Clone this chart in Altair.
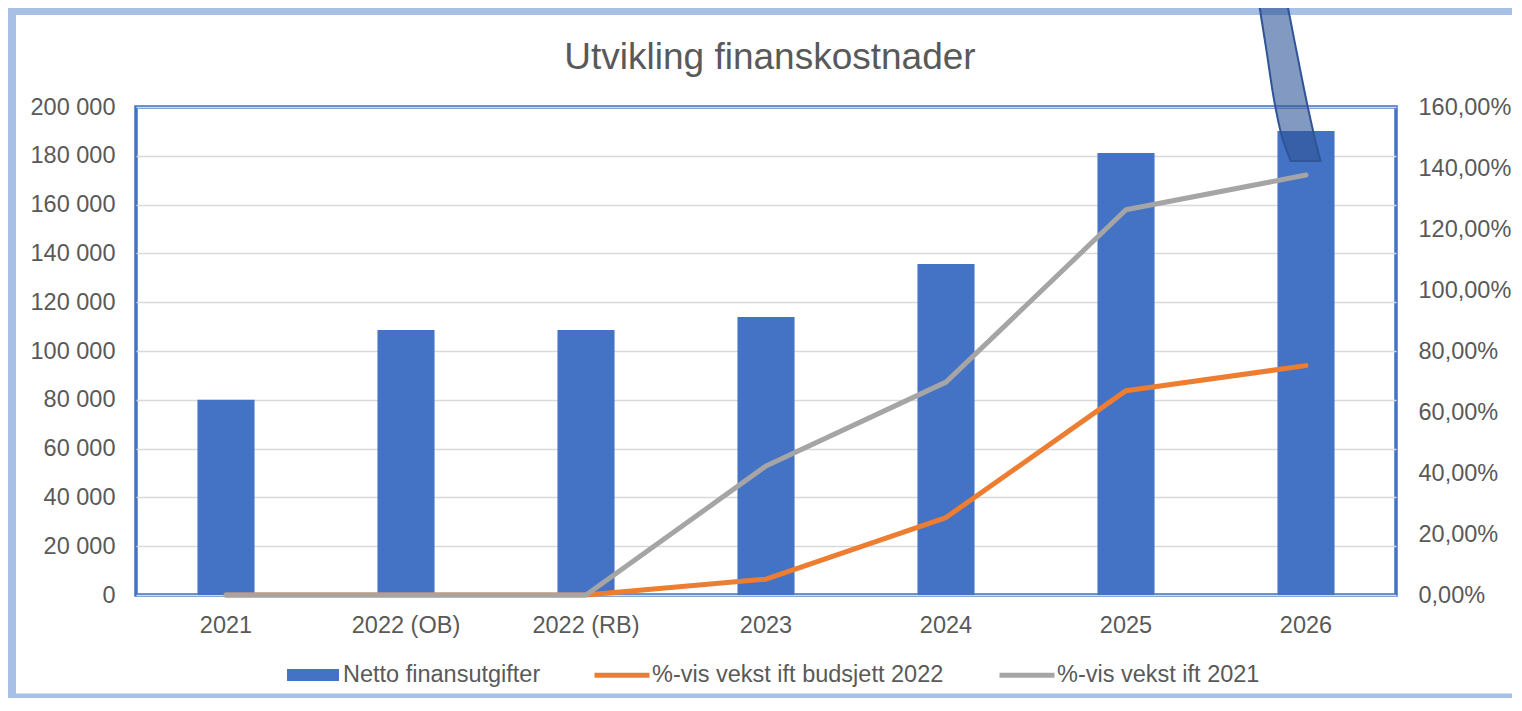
import altair as alt
import pandas as pd

# ---- data ----
categories = ["2021", "2022 (OB)", "2022 (RB)", "2023", "2024", "2025", "2026"]
netto_finansutgifter = [80000, 108600, 108600, 113900, 135700, 181100, 190200]
vekst_budsjett_2022 = [0.0, 0.0, 0.0, 5.2, 25.4, 67.0, 75.2]       # percent
vekst_2021 = [0.0, 0.0, 0.0, 42.3, 69.8, 126.3, 137.7]              # percent

bar_series = "Netto finansutgifter"
line_series = ["%-vis vekst ift budsjett 2022", "%-vis vekst ift 2021"]
title_text = "Utvikling finanskostnader"

left_ticks = list(range(0, 200001, 20000))
right_ticks = list(range(0, 161, 20))

# decorative arrow annotation (category-index units / left-axis units)
arrow_y = [249980, 243830, 223340, 199980, 186460, 177850]
arrow_left = [6.223, 6.236, 6.280, 6.330, 6.372, 6.415]
arrow_right = [6.373, 6.391, 6.446, 6.510, 6.551, 6.580]

FONT = "Liberation Sans"
TXT = "#595959"
W, H = 1260, 488

bar_df = pd.DataFrame({"kategori": categories, "netto": netto_finansutgifter,
                       "serie": [bar_series] * len(categories)})
line_df = pd.DataFrame({
    "kategori": categories * 2,
    "pct": vekst_budsjett_2022 + vekst_2021,
    "serie": [line_series[0]] * len(categories) + [line_series[1]] * len(categories),
    "rekkefolge": [0] * len(categories) + [1] * len(categories),
})
arrow_df = pd.DataFrame({"ay": arrow_y, "al": arrow_left, "ar": arrow_right})

x_scale = alt.Scale(paddingInner=0.683, paddingOuter=0.3415)

bars = alt.Chart(bar_df).mark_bar().encode(
    x=alt.X("kategori:N", sort=categories, scale=x_scale,
            axis=alt.Axis(title=None, labelAngle=0, ticks=False, domain=False,
                          labelPadding=18, labelFontSize=23.5, labelColor=TXT,
                          labelFont=FONT)),
    y=alt.Y("netto:Q", scale=alt.Scale(domain=[0, 200000], nice=False),
            axis=alt.Axis(title=None, values=left_ticks, ticks=False, domain=False,
                          grid=True, gridColor="#D9D9D9", gridWidth=1.5,
                          labelPadding=21, labelFontSize=23.5, labelColor=TXT,
                          labelFont=FONT,
                          labelExpr="replace(format(datum.value, ','), ',', ' ')")),
    color=alt.Color("serie:N",
                    scale=alt.Scale(domain=[bar_series], range=["#4472C4"]),
                    legend=alt.Legend(title=None, orient="none", legendX=151, legendY=542,
                                      symbolType="M-1,-0.23H1V0.23H-1Z", symbolSize=2704,
                                      symbolStrokeWidth=0, labelOffset=4, padding=0,
                                      labelFontSize=23.5, labelColor=TXT, labelFont=FONT,
                                      labelLimit=400)),
)

lines = alt.Chart(line_df).mark_line(strokeWidth=5, strokeCap="round", strokeJoin="round").encode(
    x=alt.X("kategori:N", sort=categories, scale=x_scale, axis=None),
    y=alt.Y("pct:Q", scale=alt.Scale(domain=[0, 160], nice=False),
            axis=alt.Axis(title=None, orient="right", values=right_ticks, ticks=False,
                          domain=False, grid=False, labelPadding=22, labelFontSize=23.5,
                          labelColor=TXT, labelFont=FONT,
                          labelExpr="replace(format(datum.value, '.2f'), '.', ',') + '%'")),
    color=alt.Color("serie:N",
                    scale=alt.Scale(domain=line_series, range=["#ED7D31", "#A5A5A5"]),
                    legend=alt.Legend(title=None, orient="none", legendX=456, legendY=538,
                                      direction="horizontal", symbolType="stroke",
                                      symbolSize=3025, symbolStrokeWidth=5,
                                      labelOffset=0, columnPadding=45, padding=0,
                                      labelFontSize=23.5, labelColor=TXT, labelFont=FONT,
                                      labelLimit=400)),
    order=alt.Order("rekkefolge:Q"),
)

arrow = alt.Chart(arrow_df).mark_area(
    orient="horizontal", color="#2F5597", fillOpacity=0.6,
    stroke="#2F5597", strokeWidth=2, interpolate="monotone", clip=False
).encode(
    y=alt.Y("ay:Q", scale=alt.Scale(domain=[0, 200000], nice=False), axis=None),
    x=alt.X("al:Q", scale=alt.Scale(domain=[0, 7], nice=False, zero=False), axis=None),
    x2="ar:Q",
)

one = pd.DataFrame({"a": [0]})
FRAME = "#A8BFE6"
frame_left = alt.Chart(one).mark_rule(color=FRAME, strokeWidth=8).encode(
    x=alt.value(-124), y=alt.value(-110), y2=alt.value(600))
frame_top = alt.Chart(one).mark_rule(color=FRAME, strokeWidth=8).encode(
    x=alt.value(-130), x2=alt.value(1400), y=alt.value(-96))
frame_bottom = alt.Chart(one).mark_rule(color=FRAME, strokeWidth=5).encode(
    x=alt.value(-130), x2=alt.value(1400), y=alt.value(589))

title = alt.Chart(pd.DataFrame({"t": [title_text]})).mark_text(
    font=FONT, fontSize=37, color=TXT, align="center", baseline="alphabetic"
).encode(text="t:N", x=alt.value(634), y=alt.value(-38))

chart = alt.layer(
    bars, lines, frame_left, frame_top, frame_bottom, arrow, title
).resolve_scale(
    x="independent", y="independent", color="independent"
).resolve_legend(color="independent").properties(
    width=W, height=H,
    background="white",
    autosize=alt.AutoSizeParams(type="none"),
    padding={"left": 128, "top": 99, "right": 116, "bottom": 103},
).configure_view(stroke="#4472C4", strokeWidth=3.5)

chart.save("out.html", embed_options={"renderer": "svg", "actions": False})
